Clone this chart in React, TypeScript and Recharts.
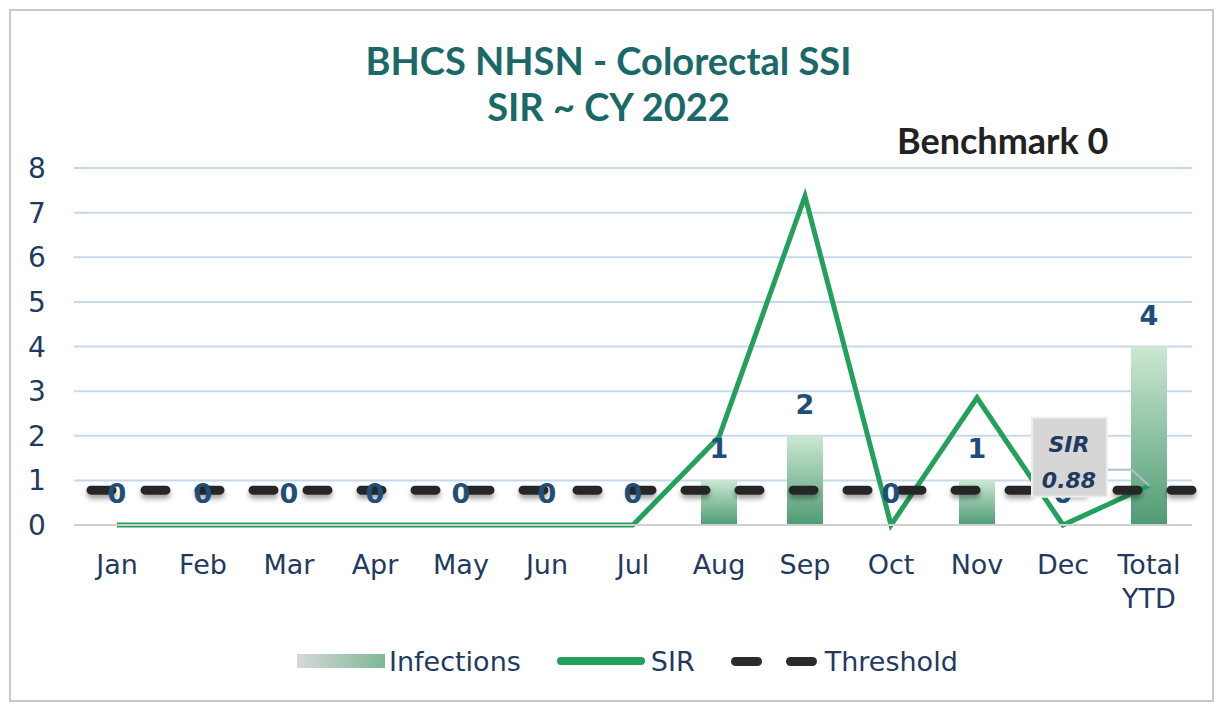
import React from 'react';
import { ComposedChart, Bar, Line, XAxis, YAxis, CartesianGrid, ReferenceLine, LabelList } from 'recharts';

const MONTHS = ['Jan', 'Feb', 'Mar', 'Apr', 'May', 'Jun', 'Jul', 'Aug', 'Sep', 'Oct', 'Nov', 'Dec', 'Total YTD'];
const INFECTIONS = [0, 0, 0, 0, 0, 0, 0, 1, 2, 0, 1, 0, 4];
const SIR = [0, 0, 0, 0, 0, 0, 0, 1.97, 7.37, 0, 2.85, 0, 0.88];
const THRESHOLD = 0.78;
const Y_TICKS = [0, 1, 2, 3, 4, 5, 6, 7, 8];

const chartData = MONTHS.map((m, i) => ({ month: m, infections: INFECTIONS[i], sir: SIR[i] }));

const NAVY = '#1f3a5f';
const GREEN = '#23a05c';
const FONT = '"DejaVu Sans", sans-serif';

const XTick = (props: any) => {
  const { x, y, payload } = props;
  const words = payload.value === 'Total YTD' ? ['Total', 'YTD'] : [payload.value];
  return (
    <g>
      {words.map((w: string, i: number) => (
        <text key={w} x={x} y={y + 47 + i * 34} textAnchor="middle" fill={NAVY} fontSize={27} fontFamily={FONT}>
          {w}
        </text>
      ))}
    </g>
  );
};

const YTick = (props: any) => {
  const { y, payload } = props;
  return (
    <text x={37} y={y + 10} textAnchor="middle" fill={NAVY} fontSize={28} fontFamily={FONT}>
      {payload.value}
    </text>
  );
};

// infection count above each bar (zero bars too)
const CountLabel = (props: any) => {
  const { x, y, value } = props;
  return (
    <text x={x} y={y - 22} textAnchor="middle" fill="#1f4e79" fontSize={27} fontWeight="bold" fontFamily={FONT}>
      {value}
    </text>
  );
};

// callout box only for the YTD SIR point
const SirCallout = (props: any) => {
  const { x, y, index, value } = props;
  if (index !== SIR.length - 1) return null;
  const bx = x - 117;
  const by = y - 68;
  return (
    <g>
      <polyline points={`${bx + 75},${y - 16} ${x - 17},${y - 16} ${x},${y}`} fill="none" stroke="#aebfd0" strokeWidth={2} />
      <rect x={bx} y={by} width={75} height={79} fill="#d6d6d6" stroke="#ededed" strokeWidth={2} />
      <text x={bx + 37} y={by + 34} textAnchor="middle" fill={NAVY} fontSize={22} fontWeight="bold" fontStyle="italic" fontFamily={FONT}>
        SIR
      </text>
      <text x={bx + 37} y={by + 70} textAnchor="middle" fill={NAVY} fontSize={22} fontWeight="bold" fontStyle="italic" fontFamily={FONT}>
        {Number(value).toFixed(2)}
      </text>
    </g>
  );
};

const App: React.FC = () => {
  return (
    <div
      style={{
        position: 'absolute',
        left: 0,
        top: 0,
        width: 1217,
        height: 707,
        background: '#fff',
        fontFamily: FONT,
      }}
    >
      <div
        style={{
          position: 'absolute',
          left: 9,
          top: 9,
          width: 1201,
          height: 689,
          border: '2px solid #c8c8c8',
        }}
      />
      <div
        style={{
          position: 'absolute',
          left: 0,
          width: 1217,
          top: 37,
          textAlign: 'center',
          color: '#1a6868',
          fontFamily: 'Lato, sans-serif',
          fontWeight: 'bold',
          fontSize: 38,
          lineHeight: '46px',
        }}
      >
        <div>BHCS NHSN - Colorectal SSI</div>
        <div>SIR ~ CY 2022</div>
      </div>
      <div
        style={{
          position: 'absolute',
          left: 897,
          top: 119,
          color: '#222',
          fontFamily: 'Lato, sans-serif',
          fontWeight: 'bold',
          fontSize: 36,
          lineHeight: '42px',
        }}
      >
        Benchmark 0
      </div>

      <div style={{ position: 'absolute', left: 0, top: 0 }}>
        <ComposedChart width={1217} height={707} data={chartData} margin={{ top: 168, right: 25, bottom: 122, left: 0 }}>
          <defs>
            <linearGradient id="barGrad" x1="0" y1="0" x2="0" y2="1">
              <stop offset="0%" stopColor="#cbe8d3" />
              <stop offset="100%" stopColor="#4f9b74" />
            </linearGradient>
            <filter id="dashShadow" filterUnits="userSpaceOnUse" x="0" y="0" width="1217" height="707">
              <feDropShadow dx="0" dy="4" stdDeviation="2.5" floodColor="#000" floodOpacity="0.35" />
            </filter>
          </defs>
          <CartesianGrid vertical={false} stroke="#c6d9ec" strokeWidth={2} />
          <XAxis
            dataKey="month"
            interval={0}
            height={60}
            tickLine={false}
            tickSize={0}
            axisLine={{ stroke: '#d0d0d0', strokeWidth: 2 }}
            tick={<XTick />}
          />
          <YAxis
            domain={[0, 8]}
            ticks={Y_TICKS}
            width={74}
            axisLine={false}
            tickLine={false}
            tick={<YTick />}
          />
          <Bar dataKey="infections" barSize={36} fill="url(#barGrad)" isAnimationActive={false} />
          <Line
            dataKey="sir"
            type="linear"
            stroke={GREEN}
            strokeWidth={5}
            dot={false}
            activeDot={false}
            isAnimationActive={false}
          />
          <ReferenceLine
            y={THRESHOLD}
            stroke="#262626"
            strokeWidth={9}
            strokeDasharray="21 33"
            strokeDashoffset={-17}
            strokeLinecap="round"
            filter="url(#dashShadow)"
          />
          <Line
            dataKey="infections"
            type="linear"
            stroke="none"
            dot={false}
            activeDot={false}
            legendType="none"
            isAnimationActive={false}
          >
            <LabelList dataKey="infections" content={<CountLabel />} />
          </Line>
          <Line
            dataKey="sir"
            type="linear"
            stroke="none"
            dot={false}
            activeDot={false}
            legendType="none"
            isAnimationActive={false}
          >
            <LabelList dataKey="sir" content={<SirCallout />} />
          </Line>
        </ComposedChart>
      </div>

      <div
        style={{
          position: 'absolute',
          left: 297,
          top: 643,
          height: 36,
          display: 'flex',
          alignItems: 'center',
          color: NAVY,
          fontSize: 27,
          fontFamily: FONT,
        }}
      >
        <div style={{ width: 88, height: 14, background: 'linear-gradient(to right, #d8d8d8, #7db894)' }} />
        <span style={{ marginLeft: 4 }}>Infections</span>
        <div style={{ width: 88, height: 8, borderRadius: 4, background: GREEN, marginLeft: 36 }} />
        <span style={{ marginLeft: 6 }}>SIR</span>
        <div style={{ width: 31, height: 9, borderRadius: 5, background: '#2b2b2b', marginLeft: 36 }} />
        <div style={{ width: 31, height: 9, borderRadius: 5, background: '#2b2b2b', marginLeft: 24 }} />
        <span style={{ marginLeft: 8 }}>Threshold</span>
      </div>
    </div>
  );
};

export default App;
